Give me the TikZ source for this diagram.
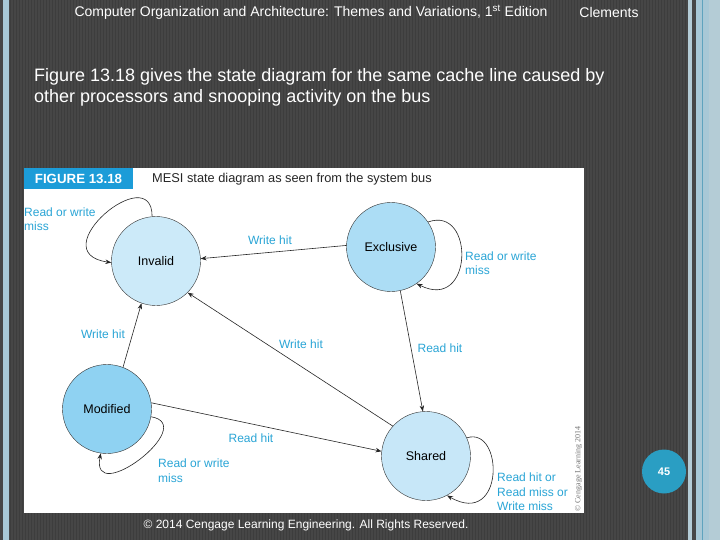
\documentclass[tikz,border=0pt]{standalone}
\usepackage{fontspec}
\setmainfont{Liberation Sans}
\newfontfamily\creditfont{Liberation Serif}
\usetikzlibrary{arrows.meta}
\definecolor{slidebg}{HTML}{464646}
\definecolor{slidestripe}{HTML}{3D3D3D}
\definecolor{edgeblue}{HTML}{A8C8D6}
\definecolor{edgepale}{HTML}{B4CCD6}
\definecolor{edgeteal}{HTML}{5FA3BE}
\definecolor{figblue}{HTML}{1C9CD8}
\definecolor{lblblue}{HTML}{2AA5D6}
\definecolor{badgeblue}{HTML}{2A9EC3}
\definecolor{invfill}{HTML}{CCEAF9}
\definecolor{excfill}{HTML}{ACDDF5}
\definecolor{modfill}{HTML}{8FD2F2}
\definecolor{shrfill}{HTML}{C7E7F8}
\begin{document}
\begin{tikzpicture}[x=1pt, y=-1pt,
  every node/.style={font=\fontsize{12}{14.5}\selectfont},
  state/.style={circle, draw=black!80, thin, minimum size=89pt, inner sep=0pt, font=\fontsize{12.5}{15}\selectfont},
  lbl/.style={text=lblblue, align=left, inner sep=0pt},
  arr/.style={-{Stealth[length=6pt,width=4.5pt]}, line width=0.6pt, black!85}]
  \useasboundingbox (0,0) rectangle (720,540);
  \fill[slidebg] (0,0) rectangle (720,540);
  \foreach \x in {10.5,13.5,...,686} \draw[slidestripe, line width=1pt] (\x,0) -- (\x,540);
  \fill[edgeblue] (3,0) rectangle (9,540);
  \fill[edgepale] (688,0) rectangle (692,540);
  \fill[edgeblue] (696,0) rectangle (709,540);
  \fill[edgeteal] (702,0) rectangle (703,540);
  \fill[edgepale] (709,0) rectangle (720,540);
  \node[text=white, font=\fontsize{14}{16}\selectfont] (course) at (311,12) {Computer Organization and Architecture: Themes and Variations, 1\textsuperscript{st} Edition};
  \node[text=white, font=\fontsize{14}{16}\selectfont] (author) at (609,12) {Clements};
  \node[anchor=west, align=left, text=white, inner sep=0pt, font=\fontsize{18}{21}\selectfont] (intro) at (34,87.5) {Figure 13.18 gives the state diagram for the same cache line caused by\\other processors and snooping activity on the bus};
  \fill[white] (24,168) rectangle (584,513);
  \fill[figblue] (24,168) rectangle (133,189);
  \node[text=white, font=\fontsize{13.3}{15}\selectfont\bfseries] (fignum) at (78.5,179) {FIGURE 13.18};
  \node[anchor=west, text=black!85, inner sep=0pt, font=\fontsize{12.8}{15}\selectfont] (figtitle) at (152,179) {MESI state diagram as seen from the system bus};
  \node[state, fill=invfill] (inv) at (156,261) {Invalid};
  \node[state, fill=excfill] (exc) at (391,247) {Exclusive};
  \node[state, fill=modfill] (mod) at (107,409) {Modified};
  \node[state, fill=shrfill] (shr) at (426,456) {Shared};
  \draw[arr] (exc.178) -- (inv.3);
  \draw[arr] (exc.-78) -- (shr.94);
  \draw[arr] (shr.138) -- (inv.-45);
  \draw[arr] (mod.69) -- (inv.-109);
  \draw[arr] (mod.8) -- (shr.174);
  \draw[arr] (inv.95) .. controls +(0,-58) and +(-71,-10) .. (inv.182);
  \draw[arr] (exc.34) .. controls +(47,-17) and +(57,29) .. (exc.-55);
  \draw[arr] (mod.-10) .. controls +(49,8) and +(-11,55) .. (mod.-98);
  \draw[arr] (shr.24) .. controls +(37,-12) and +(58,33) .. (shr.-62);
  \node[lbl, anchor=west] (invloop) at (24,219) {Read or write\\miss};
  \node[lbl, anchor=west] (excloop) at (465,263) {Read or write\\miss};
  \node[lbl, anchor=west] (modloop) at (158,470.5) {Read or write\\miss};
  \node[lbl, anchor=west] (shrloop) at (497,492) {Read hit or\\Read miss or\\Write miss};
  \node[lbl] (eiw) at (270,240) {Write hit};
  \node[lbl] (siw) at (301,344) {Write hit};
  \node[lbl] (miw) at (103,334) {Write hit};
  \node[lbl] (esr) at (440,348) {Read hit};
  \node[lbl] (msr) at (251,438) {Read hit};
  \node[rotate=90, text=black!55, inner sep=0pt, font=\fontsize{8}{9}\creditfont] (credit) at (578.5,469) {\textcopyright\ Cengage Learning 2014};
  \node[text=white, font=\fontsize{12}{14}\selectfont] (rights) at (306,525) {\textcopyright\ 2014 Cengage Learning Engineering. All Rights Reserved.};
  \node[circle, fill=badgeblue, minimum size=44pt, inner sep=0pt, text=white, font=\fontsize{11}{13}\selectfont\bfseries] (page) at (664,471.5) {45};
\end{tikzpicture}
\end{document}
